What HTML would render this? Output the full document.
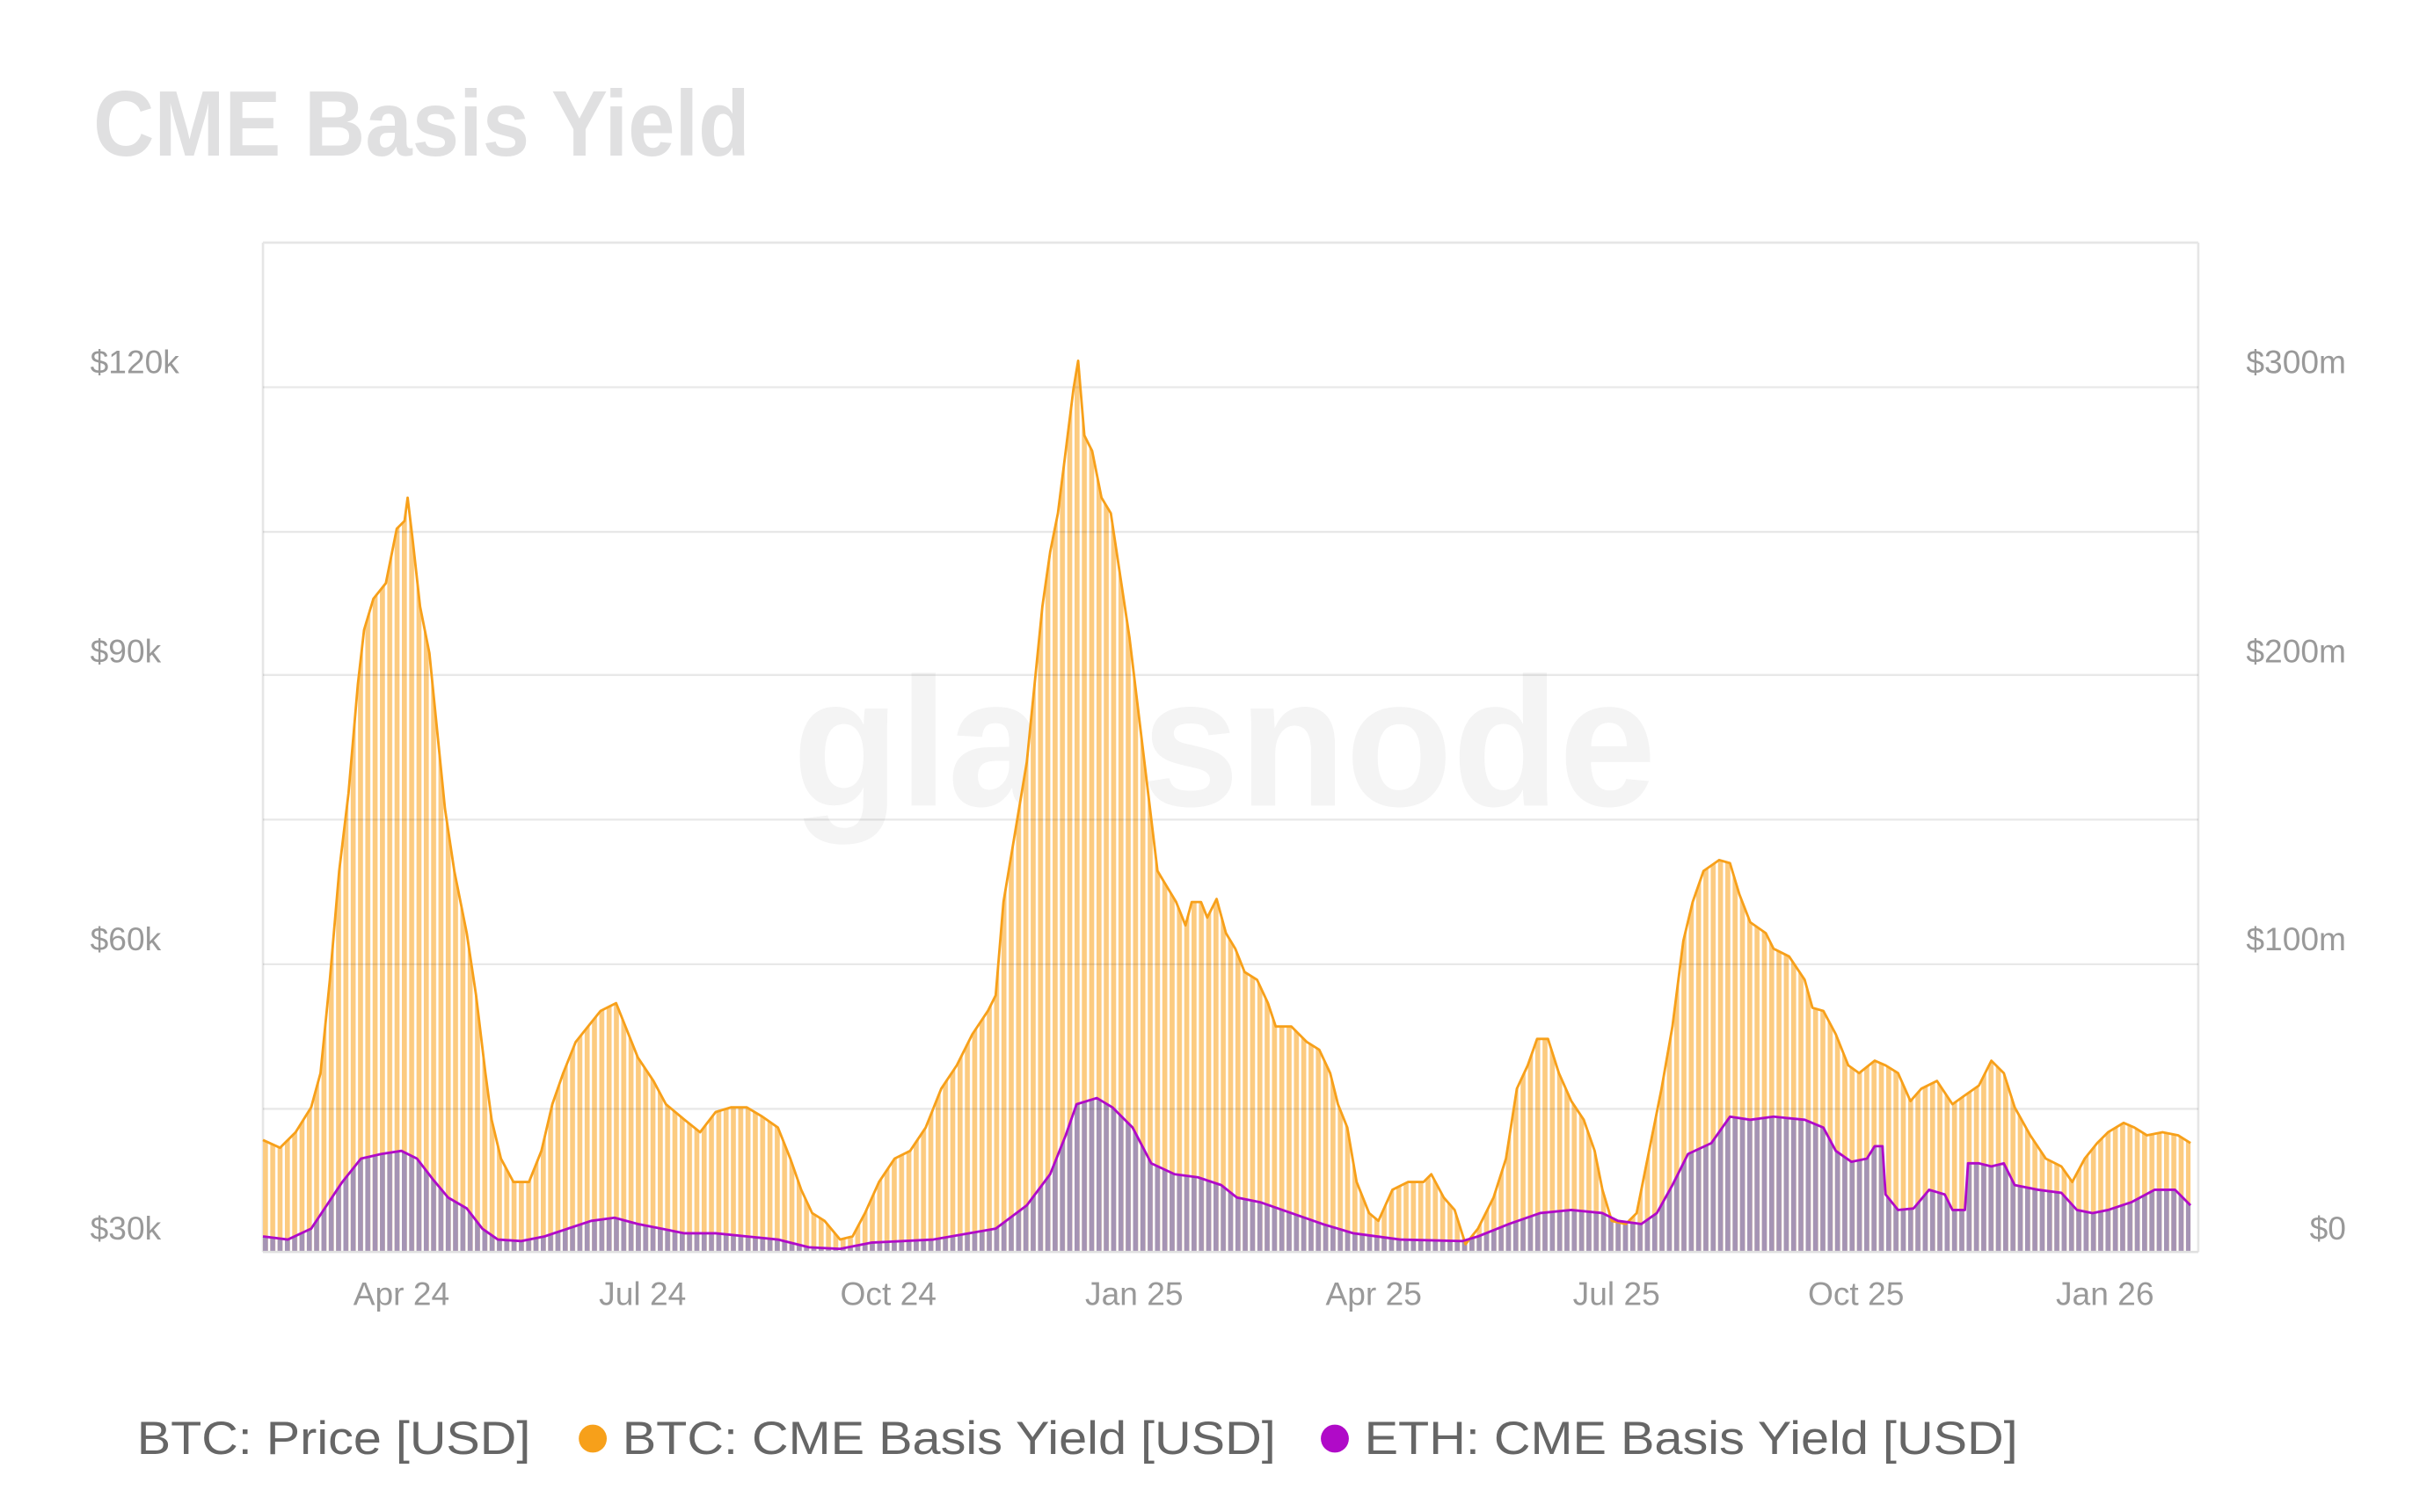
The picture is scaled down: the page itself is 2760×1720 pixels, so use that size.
<!DOCTYPE html>
<html><head><meta charset="utf-8"><style>html,body{margin:0;padding:0;background:#fff}svg{display:block}</style></head>
<body>
<svg width="2760" height="1720" viewBox="0 0 1560 972.2" xmlns="http://www.w3.org/2000/svg" font-family="Liberation Sans, sans-serif">
<defs>
<pattern id="po" width="4.7" height="10" patternUnits="userSpaceOnUse" x="169">
<rect width="4.7" height="10" fill="#fccb80"/><rect x="3.2" width="1.5" height="10" fill="#fff"/></pattern>
<pattern id="pp" width="4.7" height="10" patternUnits="userSpaceOnUse" x="169">
<rect width="3.2" height="10" fill="#a594b4"/></pattern>
</defs>
<rect width="1560" height="972.2" fill="#fff"/>
<text x="60" y="100" font-size="60" font-weight="bold" fill="#e0e0e1" textLength="422" lengthAdjust="spacingAndGlyphs">CME Basis Yield</text>
<text x="787" y="518" font-size="118" font-weight="bold" fill="#f4f4f4" text-anchor="middle" textLength="555" lengthAdjust="spacingAndGlyphs">glassnode</text>
<g stroke="#e6e6e6" stroke-width="1.5" fill="none">
<line x1="169" y1="156" x2="1413" y2="156"/><line x1="169" y1="156" x2="169" y2="805"/><line x1="1413" y1="156" x2="1413" y2="805"/>
</g>
<path fill="url(#po)" d="M169,805 L169,733 180,738 190,728 200,712 206,690 212,630 218,560 224,510 230,440 234,405 240,385 248,375 255,340 260,335 262,320 265,345 270,390 276,420 282,480 286,520 292,560 300,600 306,640 312,690 316,720 322,745 330,760 340,760 348,740 355,710 362,690 370,670 378,660 386,650 396,645 402,660 410,680 420,695 428,710 440,720 450,728 460,715 470,712 480,712 490,718 500,725 508,745 515,765 522,780 530,785 540,797 548,795 556,780 565,760 575,745 585,740 595,725 605,700 615,685 625,665 635,650 640,640 645,580 650,550 655,520 660,490 665,440 670,390 675,355 680,330 685,290 690,250 693,232 697,280 702,290 708,320 714,330 720,370 726,410 732,460 738,510 744,560 750,570 756,580 762,595 766,580 772,580 776,590 782,578 788,600 794,610 800,625 808,630 815,645 820,660 830,660 840,670 848,675 855,690 860,710 866,725 872,760 880,780 886,785 895,765 905,760 915,760 920,755 928,770 935,778 942,800 950,790 960,770 968,745 975,700 982,685 988,668 995,668 1002,690 1010,708 1018,720 1025,740 1030,765 1036,785 1045,787 1052,780 1060,740 1068,700 1075,660 1082,605 1088,580 1095,560 1105,553 1112,555 1118,575 1125,593 1135,600 1140,610 1150,615 1160,630 1165,648 1172,650 1180,665 1188,685 1195,690 1205,682 1212,685 1220,690 1228,708 1235,700 1245,695 1255,710 1262,705 1272,698 1280,682 1288,690 1295,712 1305,730 1315,745 1325,750 1332,760 1340,745 1348,735 1355,728 1365,722 1372,725 1380,730 1390,728 1400,730 1408,735 L1408,805 Z"/>
<path fill="url(#pp)" d="M169,805 L169,795 185,797 200,790 210,775 220,760 232,745 245,742 258,740 268,745 278,758 288,770 300,777 310,790 320,797 335,798 350,795 365,790 380,785 395,783 410,787 425,790 440,793 460,793 480,795 500,797 520,802 540,803 560,799 600,797 640,790 660,775 675,755 685,730 692,710 705,706 715,712 728,725 740,748 755,755 770,757 785,762 795,770 810,773 830,780 850,787 870,793 900,797 940,798 950,795 970,787 990,780 1010,778 1030,780 1040,785 1055,787 1065,780 1075,762 1085,742 1100,735 1112,718 1125,720 1140,718 1160,720 1172,725 1180,740 1190,747 1200,745 1205,737 1210,737 1212,768 1220,778 1230,777 1240,765 1250,768 1255,778 1263,778 1265,748 1272,748 1280,750 1288,748 1295,762 1310,765 1325,767 1335,778 1345,780 1355,778 1370,773 1385,765 1398,765 1403,770 1408,775 L1408,805 Z"/>
<g stroke="#000" stroke-opacity="0.09" stroke-width="1.3">
<line x1="169" y1="249" x2="1413" y2="249"/><line x1="169" y1="342" x2="1413" y2="342"/><line x1="169" y1="434" x2="1413" y2="434"/><line x1="169" y1="527" x2="1413" y2="527"/><line x1="169" y1="620" x2="1413" y2="620"/><line x1="169" y1="713" x2="1413" y2="713"/>
</g>
<line x1="169" y1="805" x2="1413" y2="805" stroke="#e0e0e0" stroke-width="1.5"/>
<polyline fill="none" stroke="#f7a01a" stroke-width="1.6" stroke-linejoin="round" points="169,733 180,738 190,728 200,712 206,690 212,630 218,560 224,510 230,440 234,405 240,385 248,375 255,340 260,335 262,320 265,345 270,390 276,420 282,480 286,520 292,560 300,600 306,640 312,690 316,720 322,745 330,760 340,760 348,740 355,710 362,690 370,670 378,660 386,650 396,645 402,660 410,680 420,695 428,710 440,720 450,728 460,715 470,712 480,712 490,718 500,725 508,745 515,765 522,780 530,785 540,797 548,795 556,780 565,760 575,745 585,740 595,725 605,700 615,685 625,665 635,650 640,640 645,580 650,550 655,520 660,490 665,440 670,390 675,355 680,330 685,290 690,250 693,232 697,280 702,290 708,320 714,330 720,370 726,410 732,460 738,510 744,560 750,570 756,580 762,595 766,580 772,580 776,590 782,578 788,600 794,610 800,625 808,630 815,645 820,660 830,660 840,670 848,675 855,690 860,710 866,725 872,760 880,780 886,785 895,765 905,760 915,760 920,755 928,770 935,778 942,800 950,790 960,770 968,745 975,700 982,685 988,668 995,668 1002,690 1010,708 1018,720 1025,740 1030,765 1036,785 1045,787 1052,780 1060,740 1068,700 1075,660 1082,605 1088,580 1095,560 1105,553 1112,555 1118,575 1125,593 1135,600 1140,610 1150,615 1160,630 1165,648 1172,650 1180,665 1188,685 1195,690 1205,682 1212,685 1220,690 1228,708 1235,700 1245,695 1255,710 1262,705 1272,698 1280,682 1288,690 1295,712 1305,730 1315,745 1325,750 1332,760 1340,745 1348,735 1355,728 1365,722 1372,725 1380,730 1390,728 1400,730 1408,735"/>
<polyline fill="none" stroke="#b00ac8" stroke-width="1.6" stroke-linejoin="round" points="169,795 185,797 200,790 210,775 220,760 232,745 245,742 258,740 268,745 278,758 288,770 300,777 310,790 320,797 335,798 350,795 365,790 380,785 395,783 410,787 425,790 440,793 460,793 480,795 500,797 520,802 540,803 560,799 600,797 640,790 660,775 675,755 685,730 692,710 705,706 715,712 728,725 740,748 755,755 770,757 785,762 795,770 810,773 830,780 850,787 870,793 900,797 940,798 950,795 970,787 990,780 1010,778 1030,780 1040,785 1055,787 1065,780 1075,762 1085,742 1100,735 1112,718 1125,720 1140,718 1160,720 1172,725 1180,740 1190,747 1200,745 1205,737 1210,737 1212,768 1220,778 1230,777 1240,765 1250,768 1255,778 1263,778 1265,748 1272,748 1280,750 1288,748 1295,762 1310,765 1325,767 1335,778 1345,780 1355,778 1370,773 1385,765 1398,765 1403,770 1408,775"/>
<g font-size="21" fill="#999">
<text x="58" y="240">$120k</text><text x="58" y="426">$90k</text><text x="58" y="611">$60k</text><text x="58" y="797">$30k</text>
<g text-anchor="end"><text x="1508" y="240">$300m</text><text x="1508" y="426">$200m</text><text x="1508" y="611">$100m</text><text x="1508" y="797">$0</text></g>
<g text-anchor="middle"><text x="258" y="839">Apr 24</text><text x="413" y="839">Jul 24</text><text x="571" y="839">Oct 24</text><text x="729" y="839">Jan 25</text><text x="883" y="839">Apr 25</text><text x="1039" y="839">Jul 25</text><text x="1193" y="839">Oct 25</text><text x="1353" y="839">Jan 26</text></g>
</g>
<g font-size="30" fill="#666">
<text x="88" y="935" textLength="253" lengthAdjust="spacingAndGlyphs">BTC: Price [USD]</text>
<circle cx="381" cy="925" r="9" fill="#f7a01a"/>
<text x="400" y="935" textLength="420" lengthAdjust="spacingAndGlyphs">BTC: CME Basis Yield [USD]</text>
<circle cx="858" cy="925" r="9" fill="#b00ac8"/>
<text x="877" y="935" textLength="420" lengthAdjust="spacingAndGlyphs">ETH: CME Basis Yield [USD]</text>
</g>
</svg>
</body></html>
